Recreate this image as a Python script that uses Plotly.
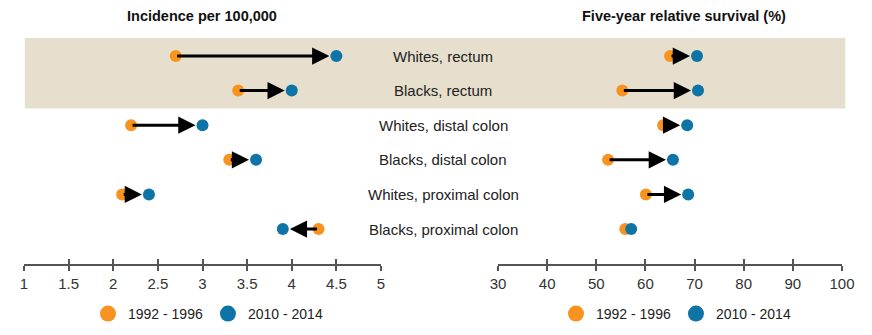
import plotly.graph_objects as go

categories = ["Whites, rectum", "Blacks, rectum", "Whites, distal colon",
              "Blacks, distal colon", "Whites, proximal colon", "Blacks, proximal colon"]
inc_1992 = [2.7, 3.4, 2.2, 3.3, 2.1, 4.3]
inc_2010 = [4.5, 4.0, 3.0, 3.6, 2.4, 3.9]
surv_1992 = [65.0, 55.3, 63.6, 52.4, 60.1, 55.9]
surv_2010 = [70.5, 70.7, 68.5, 65.6, 68.7, 57.1]
period_labels = ["1992 - 1996", "2010 - 2014"]
inc_ticks = [1, 1.5, 2, 2.5, 3, 3.5, 4, 4.5, 5]
surv_ticks = [30, 40, 50, 60, 70, 80, 90, 100]

ORANGE = "#F7931E"
BLUE = "#0E74A6"
BAND = "#E7DFCD"
FONT = "Liberation Sans, Arial, sans-serif"

rows = list(range(len(categories)))

fig = go.Figure()

# data markers
for xa, vals, col in [("x", inc_1992, ORANGE), ("x", inc_2010, BLUE),
                      ("x2", surv_1992, ORANGE), ("x2", surv_2010, BLUE)]:
    fig.add_trace(go.Scatter(x=vals, y=rows, xaxis=xa, yaxis="y", mode="markers",
                             marker=dict(size=12, color=col), showlegend=False,
                             hoverinfo="x", cliponaxis=False))

# legend entries
for lg in ["legend", "legend2"]:
    for name, col in zip(period_labels, [ORANGE, BLUE]):
        fig.add_trace(go.Scatter(x=[None], y=[None], mode="markers", name=name,
                                 marker=dict(size=18, color=col), legend=lg,
                                 xaxis="x", yaxis="y"))

# dummy traces so overlay tick axes render
fig.add_trace(go.Scatter(x=[None], y=[None], xaxis="x3", yaxis="y", showlegend=False))
fig.add_trace(go.Scatter(x=[None], y=[None], xaxis="x4", yaxis="y", showlegend=False))

annotations = []
# arrows
for xref, a, b, thr in [("x", inc_1992, inc_2010, 0.15), ("x2", surv_1992, surv_2010, 2.0)]:
    for i, (s, e) in enumerate(zip(a, b)):
        if abs(e - s) < thr:
            continue
        annotations.append(dict(x=e, y=i, ax=s, ay=i, xref=xref, yref="y",
                                axref=xref, ayref="y", text="", showarrow=True,
                                arrowhead=2, arrowsize=1.15, arrowwidth=3,
                                arrowcolor="#000000", standoff=7, startstandoff=0))
# category labels
for i, c in enumerate(categories):
    annotations.append(dict(x=(443 - 24) / 818, y=i, xref="paper", yref="y", text=c,
                            showarrow=False, xanchor="center", yanchor="middle",
                            font=dict(size=15, color="#222222", family=FONT)))
# panel titles
annotations.append(dict(x=(202 - 24) / 818, y=1 + (38 - 16) / 226, xref="paper", yref="paper",
                        text="<b>Incidence per 100,000</b>", showarrow=False,
                        xanchor="center", yanchor="middle",
                        font=dict(size=14.5, color="#111111", family=FONT)))
annotations.append(dict(x=(683.5 - 24) / 818, y=1 + (38 - 16) / 226, xref="paper", yref="paper",
                        text="<b>Five-year relative survival (%)</b>", showarrow=False,
                        xanchor="center", yanchor="middle",
                        font=dict(size=14.5, color="#111111", family=FONT)))

shapes = [dict(type="rect", xref="paper", yref="y", x0=0.001, x1=1.004, y0=-0.52, y1=1.52,
               fillcolor=BAND, line=dict(width=0), layer="below")]

axis_common = dict(showline=True, linecolor="#555555", linewidth=1.5, showgrid=False,
                   zeroline=False, ticks="outside", ticklen=5, tickwidth=1.5,
                   tickcolor="#555555", tickfont=dict(size=15, color="#333333", family=FONT),
                   ticklabelstandoff=0, anchor="y", fixedrange=True, automargin=False)
axis_inside = dict(showline=False, showgrid=False, zeroline=False, ticks="inside",
                   ticklen=5, tickwidth=1.5, tickcolor="#555555", showticklabels=False,
                   anchor="y", automargin=False)

fig.update_layout(
    width=872, height=335,
    margin=dict(l=24, r=30, t=38, b=71, autoexpand=False),
    paper_bgcolor="white", plot_bgcolor="rgba(0,0,0,0)",
    font=dict(family=FONT),
    xaxis=dict(domain=[0, 357 / 818], range=[1, 5], tickvals=inc_ticks,
               ticktext=[str(t) for t in inc_ticks], **axis_common),
    xaxis2=dict(domain=[(498 - 24) / 818, 1], range=[30, 100], tickvals=surv_ticks, **axis_common),
    xaxis3=dict(overlaying="x", matches="x", tickvals=inc_ticks, **axis_inside),
    xaxis4=dict(overlaying="x2", matches="x2", tickvals=surv_ticks, **axis_inside),
    yaxis=dict(range=[6.01, -0.52], visible=False, fixedrange=True),
    annotations=annotations,
    shapes=shapes,
    legend=dict(orientation="h", x=(208 - 24) / 818, xanchor="center", y=-50 / 226,
                yanchor="middle", font=dict(size=14, color="#222222", family=FONT),
                itemwidth=30),
    legend2=dict(orientation="h", x=(676 - 24) / 818, xanchor="center", y=-50 / 226,
                 yanchor="middle", font=dict(size=14, color="#222222", family=FONT),
                 itemwidth=30),
)

fig.write_html("out.html")
